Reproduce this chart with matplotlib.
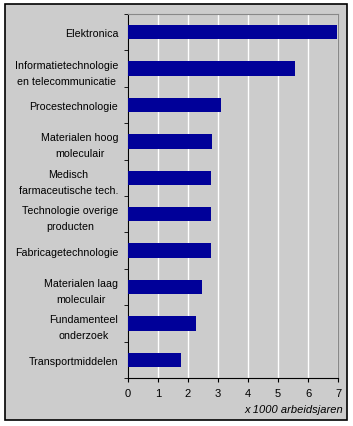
import matplotlib
matplotlib.use("Agg")
import matplotlib.pyplot as plt
from matplotlib.patches import Rectangle
import numpy as np

categories = ["Elektronica", "Informatietechnologie\nen telecommunicatie", "Procestechnologie",
              "Materialen hoog\nmoleculair", "Medisch\nfarmaceutische tech.",
              "Technologie overige\nproducten", "Fabricagetechnologie",
              "Materialen laag\nmoleculair", "Fundamenteel\nonderzoek", "Transportmiddelen"]
values = [6.95, 5.55, 3.1, 2.8, 2.78, 2.78, 2.78, 2.45, 2.25, 1.75]
xticks = [0, 1, 2, 3, 4, 5, 6, 7]
xlabel = "x 1000 arbeidsjaren"

plt.rcParams['font.family'] = ['Liberation Sans', 'DejaVu Sans']
W, H = 353, 427
fig = plt.figure(figsize=(W/100, H/100), dpi=100)
fig.patch.set_facecolor('white')
fig.patches.append(Rectangle((5/W, 1-421/H), (347-5)/W, (421-5)/H, transform=fig.transFigure,
                             facecolor='#CCCCCC', edgecolor='black', linewidth=1.2, zorder=-1))

ax = fig.add_axes([128/W, 1-379/H, (338-128)/W, (379-15)/H])
ax.set_facecolor('#CCCCCC')
n = len(categories)
y = np.arange(n)
ax.barh(y, values, height=0.4, color='#000099', zorder=3)
ax.set_ylim(n-0.5, -0.5)
ax.set_xlim(0, 7)
ax.set_xticks(xticks)
ax.set_xticklabels([str(t) for t in xticks], fontsize=8)
ax.xaxis.grid(True, color='white', linewidth=1, zorder=0)
ax.set_axisbelow(True)
ax.set_yticks(y)
ax.set_yticklabels(categories, fontsize=7.7, ha='right', multialignment='center', linespacing=1.75)
ax.set_yticks(np.arange(n+1)-0.5, minor=True)
ax.tick_params(axis='y', which='major', length=0, pad=7)
ax.tick_params(axis='y', which='minor', length=3, direction='out', color='black')
ax.tick_params(axis='x', length=3, direction='out', pad=4)
for s in ['top', 'right']:
    ax.spines[s].set_color('#888888')
for s in ['left', 'bottom']:
    ax.spines[s].set_color('black')
fig.text(343/W, 1-410/H, xlabel, ha='right', va='center', fontsize=8, style='italic')
fig.savefig('out.png', dpi=100)
